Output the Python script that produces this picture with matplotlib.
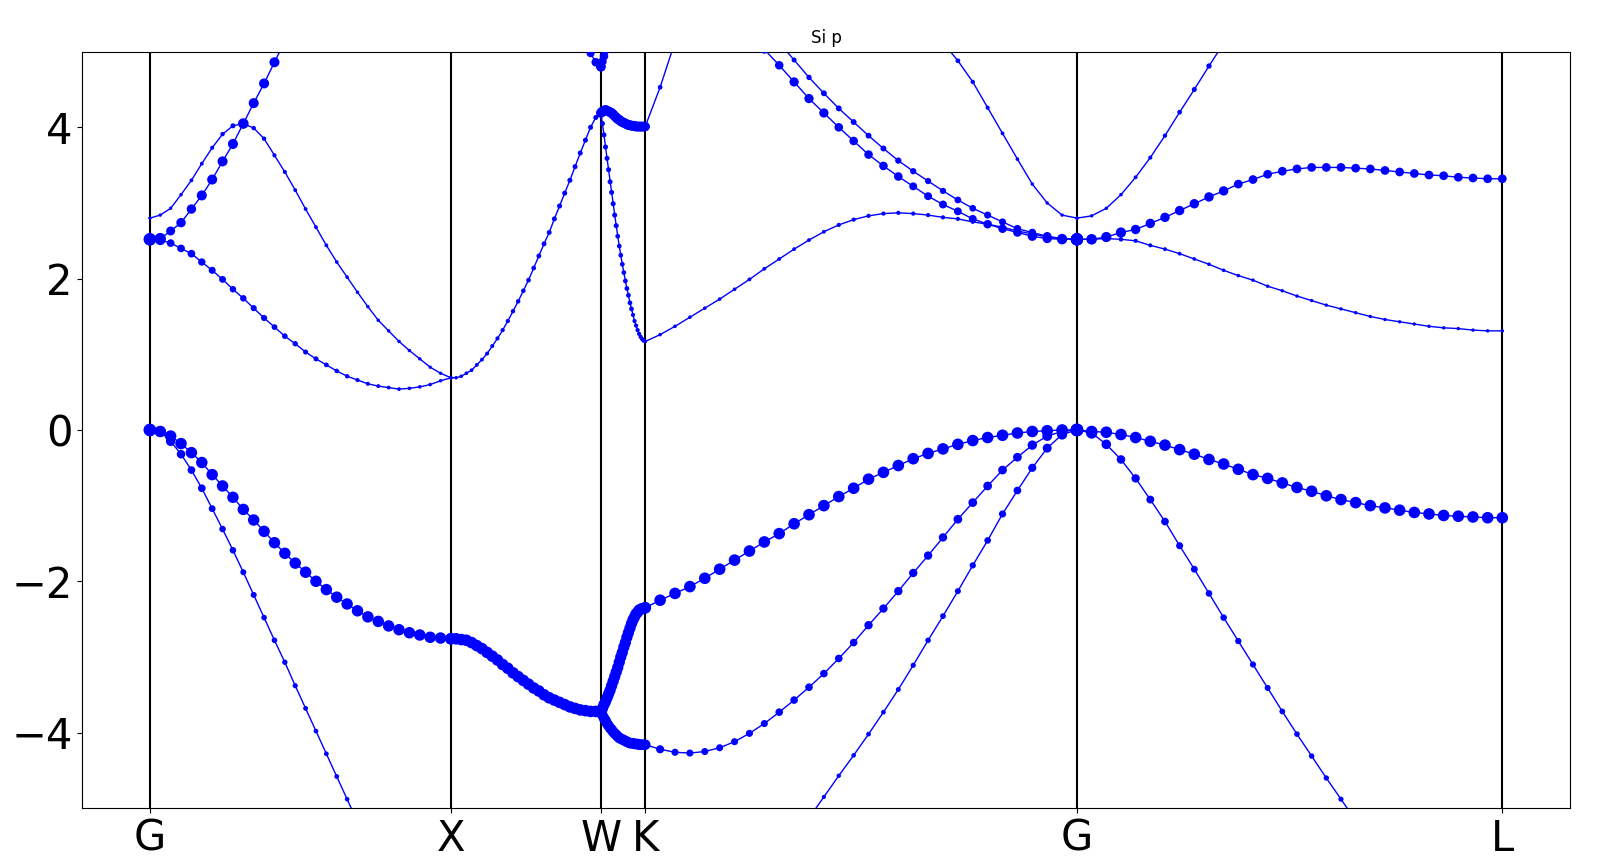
"""
Si band structure, p-projected weights (fat bands).
"""
import numpy as np
import matplotlib
matplotlib.use('Agg')
import matplotlib.pyplot as plt

nan = np.nan

# k-path: high-symmetry points and their positions on the x axis
labels = ['G', 'X', 'W', 'K', 'G', 'L']
kticks = [0.0, 1.0, 1.4983, 1.6455, 3.0797, 4.4927]
nk = 30  # k-points per segment

# band energies (eV) per segment G-X, X-W, W-K, K-G, G-L ; nan = off screen
e2 = [
    [0.00, -0.02, -0.15, -0.32, -0.53, -0.77, -1.04, -1.31, -1.59, -1.88, -2.18, -2.48, -2.78, -3.07, -3.38,
     -3.68, -3.98, -4.28, -4.58, -4.88, -5.18] + [nan] * 9,
    [nan] * 30,
    [nan] * 30,
    [nan] * 11 + [-5.13, -4.85, -4.57, -4.30, -4.02, -3.73, -3.43, -3.11, -2.78, -2.46, -2.13, -1.79, -1.46,
                  -1.11, -0.80, -0.50, -0.24, -0.06, 0.00],
    [0.00, -0.04, -0.19, -0.39, -0.64, -0.92, -1.21, -1.53, -1.84, -2.16, -2.48, -2.79, -3.10, -3.41, -3.72,
     -4.02, -4.31, -4.60, -4.88, -5.16] + [nan] * 10,
]
w2 = [
    [0.93, 0.7, 0.5, 0.4, 0.31, 0.31, 0.23, 0.2, 0.2, 0.16, 0.16, 0.13, 0.13, 0.11, 0.1, 0.08, 0.07, 0.07,
     0.07, 0.06, 0.06] + [0] * 9,
    [0] * 30,
    [0] * 30,
    [0] * 11 + [0.04, 0.04, 0.05, 0.06, 0.07, 0.07, 0.08, 0.1, 0.12, 0.14, 0.16, 0.18, 0.21, 0.26, 0.31,
                0.36, 0.45, 0.6, 0.93],
    [0.93, 0.75, 0.52, 0.4, 0.38, 0.33, 0.31, 0.25, 0.23, 0.21, 0.2, 0.18, 0.17, 0.16, 0.14, 0.13, 0.12,
     0.11, 0.1, 0.1] + [0] * 10,
]

e3 = [
    [0.00, -0.02, -0.08, -0.18, -0.30, -0.43, -0.59, -0.74, -0.89, -1.05, -1.19, -1.34, -1.49, -1.63, -1.76,
     -1.88, -2.00, -2.11, -2.21, -2.30, -2.39, -2.47, -2.53, -2.59, -2.64, -2.68, -2.71, -2.74, -2.75, -2.76],
    [-2.76, -2.76, -2.77, -2.78, -2.81, -2.85, -2.89, -2.94, -2.99, -3.04, -3.10, -3.15, -3.21, -3.26, -3.31,
     -3.36, -3.41, -3.45, -3.50, -3.54, -3.57, -3.60, -3.63, -3.66, -3.68, -3.70, -3.71, -3.72, -3.72, -3.73],
    [-3.73, -3.77, -3.81, -3.84, -3.88, -3.91, -3.94, -3.96, -3.99, -4.01, -4.03, -4.05, -4.07, -4.08, -4.09,
     -4.10, -4.11, -4.12, -4.13, -4.14, -4.14, -4.14, -4.15, -4.15, -4.15, -4.16, -4.16, -4.16, -4.16, -4.16],
    [-4.16, -4.22, -4.26, -4.27, -4.25, -4.20, -4.12, -4.01, -3.88, -3.73, -3.57, -3.40, -3.22, -3.02, -2.81,
     -2.58, -2.36, -2.13, -1.89, -1.66, -1.42, -1.18, -0.96, -0.74, -0.53, -0.36, -0.20, -0.08, -0.02, 0.00],
    [0.00, -0.02, -0.03, -0.06, -0.10, -0.15, -0.20, -0.26, -0.32, -0.39, -0.45, -0.52, -0.59, -0.64, -0.70,
     -0.76, -0.81, -0.87, -0.92, -0.96, -1.00, -1.03, -1.06, -1.09, -1.11, -1.13, -1.14, -1.15, -1.16, -1.16],
]
w3 = [
    [0.93] + [0.78] * 29,
    [0.8] * 30,
    [0.65] * 30,
    [0.5, 0.35, 0.25, 0.25, 0.25, 0.25, 0.25, 0.25, 0.25, 0.3, 0.3, 0.3, 0.3, 0.3, 0.3, 0.38, 0.38, 0.38,
     0.38, 0.38, 0.38, 0.42, 0.42, 0.42, 0.42, 0.42, 0.5, 0.55, 0.65, 0.93],
    [0.93] + [0.8] * 29,
]

e4 = [
    [nan] * 30,
    [nan] * 30,
    [-3.73, -3.68, -3.63, -3.59, -3.54, -3.49, -3.44, -3.38, -3.32, -3.26, -3.20, -3.14, -3.07, -3.00, -2.94,
     -2.87, -2.81, -2.74, -2.68, -2.62, -2.56, -2.51, -2.47, -2.43, -2.41, -2.38, -2.37, -2.36, -2.36, -2.35],
    [-2.35, -2.25, -2.16, -2.07, -1.96, -1.84, -1.72, -1.60, -1.48, -1.37, -1.24, -1.12, -1.00, -0.88, -0.77,
     -0.65, -0.56, -0.47, -0.38, -0.31, -0.25, -0.19, -0.14, -0.10, -0.07, -0.04, -0.02, -0.01, 0.00, 0.00],
    [nan] * 30,
]
w4 = [
    [0] * 30,
    [0] * 30,
    [0.75] * 30,
    [0.8] * 29 + [0.93],
    [0] * 30,
]

e5 = [
    [2.52, 2.51, 2.47, 2.40, 2.33, 2.22, 2.11, 1.99, 1.86, 1.74, 1.61, 1.48, 1.36, 1.24, 1.14,
     1.03, 0.94, 0.86, 0.78, 0.71, 0.66, 0.61, 0.58, 0.56, 0.54, 0.55, 0.57, 0.60, 0.65, 0.69],
    [0.69, 0.69, 0.71, 0.75, 0.79, 0.86, 0.93, 1.01, 1.11, 1.21, 1.32, 1.44, 1.57, 1.70, 1.84,
     1.98, 2.14, 2.30, 2.46, 2.61, 2.79, 2.96, 3.13, 3.30, 3.48, 3.66, 3.83, 4.00, 4.13, 4.19],
    [4.19, 4.05, 3.90, 3.74, 3.59, 3.44, 3.28, 3.14, 2.99, 2.84, 2.70, 2.56, 2.43, 2.31, 2.19,
     2.08, 1.97, 1.87, 1.78, 1.68, 1.60, 1.52, 1.44, 1.38, 1.32, 1.27, 1.23, 1.20, 1.18, 1.17],
    [1.17, 1.26, 1.37, 1.49, 1.61, 1.73, 1.86, 1.99, 2.13, 2.26, 2.39, 2.51, 2.62, 2.71, 2.78,
     2.83, 2.86, 2.87, 2.86, 2.84, 2.81, 2.79, 2.75, 2.72, 2.68, 2.63, 2.59, 2.55, 2.53, 2.52],
    [2.52, 2.52, 2.53, 2.52, 2.50, 2.44, 2.39, 2.33, 2.26, 2.19, 2.11, 2.04, 1.98, 1.90, 1.84,
     1.77, 1.71, 1.65, 1.60, 1.55, 1.50, 1.46, 1.43, 1.40, 1.37, 1.35, 1.34, 1.32, 1.31, 1.31],
]
w5 = [
    [0.9, 0.6, 0.31, 0.31, 0.31, 0.28, 0.25, 0.23, 0.2, 0.2, 0.17, 0.17, 0.14, 0.13, 0.11, 0.09, 0.09,
     0.07, 0.06, 0.05, 0.04, 0.03, 0.025, 0.02, 0.015, 0.01, 0.01, 0.005, 0.005, 0.005],
    [0.005, 0.005, 0.01, 0.01, 0.015, 0.02, 0.02, 0.025, 0.03, 0.035, 0.04, 0.045, 0.05, 0.055, 0.06,
     0.065, 0.07, 0.075, 0.08, 0.08, 0.085, 0.09, 0.09, 0.09, 0.09, 0.09, 0.09, 0.09, 0.09, 0.3],
    [0.3] + [0.09] * 10 + [0.07] * 10 + [0.04] * 8 + [0.012],
    [0.01, 0.005, 0.01, 0.01, 0.01, 0.01, 0.01, 0.02, 0.02, 0.02, 0.02, 0.02, 0.02, 0.04, 0.04,
     0.04, 0.04, 0.04, 0.04, 0.04, 0.04, 0.04, 0.03, 0.03, 0.03, 0.03, 0.03, 0.1, 0.3, 0.9],
    [0.9, 0.5, 0.2, 0.06, 0.04, 0.03, 0.025, 0.02, 0.015, 0.012, 0.01, 0.008, 0.006, 0.005, 0.004,
     0.003, 0.002, 0.002, 0.002, 0.002, 0.001, 0.001, 0.001, 0.001, 0.001, 0.001, 0.001, 0.001, 0.001, 0.001],
]

e6 = [
    [2.80, 2.84, 2.93, 3.11, 3.30, 3.52, 3.73, 3.91, 4.02, 4.05, 3.99, 3.85, 3.63, 3.41, 3.17,
     2.92, 2.68, 2.44, 2.22, 2.02, 1.82, 1.63, 1.45, 1.31, 1.17, 1.05, 0.94, 0.83, 0.75, 0.69],
    [nan] * 30,
    [4.19, 4.21, 4.22, 4.23, 4.22, 4.21, 4.20, 4.19, 4.17, 4.15, 4.13, 4.11, 4.10, 4.08, 4.07,
     4.06, 4.05, 4.04, 4.03, 4.03, 4.02, 4.02, 4.02, 4.01, 4.01, 4.01, 4.01, 4.01, 4.01, 4.01],
    [4.01, 4.53, 5.13] + [nan] * 17 + [5.12, 4.88, 4.60, 4.26, 3.92, 3.58, 3.25, 3.00, 2.84, 2.80],
    [2.80, 2.83, 2.93, 3.11, 3.34, 3.60, 3.89, 4.20, 4.50, 4.81, 5.11] + [nan] * 19,
]
w6 = [
    [0, 0, 0.001, 0.005, 0.02, 0.02, 0.035, 0.05, 0.09, 0.09, 0.05, 0.05, 0.035, 0.035, 0.02,
     0.02, 0.02, 0.02, 0.012, 0.012, 0.005, 0.005, 0.005, 0.003, 0.003, 0.003, 0, 0, 0, 0],
    [0] * 30,
    [0.55] * 29 + [0.45],
    [0.45, 0.07, 0.07] + [0] * 17 + [0.08, 0.07, 0.05, 0.035, 0.02, 0.012, 0.005, 0, 0, 0],
    [0, 0, 0, 0.005, 0.02, 0.035, 0.05, 0.07, 0.09, 0.11, 0.12] + [0] * 19,
]

e7 = [
    [2.52, 2.53, 2.63, 2.74, 2.92, 3.10, 3.31, 3.55, 3.78, 4.05, 4.32, 4.58, 4.86, 5.14] + [nan] * 16,
    [nan] * 26 + [5.14, 4.98, 4.86, 4.80],
    [4.80, 4.87, 4.94, 5.02, 5.10] + [nan] * 25,
    [nan] * 7 + [5.25, 5.03, 4.82, 4.60, 4.38, 4.19, 4.00, 3.82, 3.64, 3.49, 3.35, 3.22, 3.09, 2.98,
                 2.89, 2.79, 2.72, 2.66, 2.61, 2.56, 2.53, 2.52, 2.52],
    [2.52, 2.52, 2.55, 2.61, 2.65, 2.73, 2.81, 2.90, 2.99, 3.08, 3.16, 3.25, 3.31, 3.38, 3.42,
     3.45, 3.47, 3.47, 3.47, 3.46, 3.45, 3.43, 3.41, 3.39, 3.37, 3.36, 3.34, 3.33, 3.32, 3.32],
]
w7 = [
    [0.93, 0.75, 0.45, 0.5, 0.5, 0.58, 0.58, 0.58, 0.58, 0.65, 0.58, 0.58, 0.58, 0.58] + [0] * 16,
    [0] * 26 + [0.35, 0.35, 0.4, 0.5],
    [0.5, 0.4, 0.4, 0.4, 0.4] + [0] * 25,
    [0] * 7 + [0.4, 0.4, 0.4, 0.48, 0.48, 0.48, 0.4, 0.4, 0.4, 0.4, 0.4, 0.33, 0.33, 0.33, 0.33, 0.33,
               0.4, 0.4, 0.4, 0.48, 0.48, 0.6, 0.9],
    [0.9, 0.65, 0.6, 0.6, 0.5, 0.5, 0.5, 0.5, 0.5, 0.5, 0.5] + [0.42] * 19,
]

e8 = [
    [nan] * 30,
    [nan] * 30,
    [nan] * 30,
    [nan] * 9 + [5.12, 4.89, 4.66, 4.45, 4.25, 4.07, 3.89, 3.72, 3.56, 3.42, 3.29, 3.16, 3.04, 2.93,
                 2.84, 2.75, 2.66, 2.61, 2.56, 2.53, 2.52],
    [nan] * 30,
]
w8 = [
    [0] * 30,
    [0] * 30,
    [0] * 30,
    [0] * 9 + [0.09, 0.09, 0.11, 0.15, 0.15, 0.15, 0.15, 0.15, 0.18, 0.18, 0.18, 0.18, 0.22, 0.22,
               0.25, 0.25, 0.3, 0.3, 0.4, 0.5, 0.9],
    [0] * 30,
]

bands = [(e2, w2), (e3, w3), (e4, w4), (e5, w5), (e6, w6), (e7, w7), (e8, w8)]

# x coordinate of every k-point along the path
kpath = np.concatenate([np.linspace(kticks[i], kticks[i + 1], nk)
                        for i in range(len(kticks) - 1)])

fig = plt.figure(figsize=(16.23, 8.64), dpi=100)
ax = fig.add_axes([0.0507, 0.0645, 0.9166, 0.8757])

for kt in kticks:
    ax.axvline(kt, color='k', lw=1.5, zorder=1)

for e, w in bands:
    e = np.concatenate(e)
    w = np.concatenate(w)
    ax.plot(kpath, e, 'b-', lw=1, zorder=2)
    # marker area follows the p weight, small floor so every k-point shows
    ax.scatter(kpath, e, s=6 + w * 80, c='b', linewidths=0, zorder=3)

ax.set_xlim(-0.2246, 4.7173)
ax.set_ylim(-5, 5)
ax.set_xticks(kticks)
ax.set_xticklabels(labels, fontsize=30)
ax.set_yticks([-4, -2, 0, 2, 4])
ax.tick_params(axis='y', labelsize=30)
ax.set_title('Si p', fontsize=12)

fig.savefig('out.png', dpi=100)
